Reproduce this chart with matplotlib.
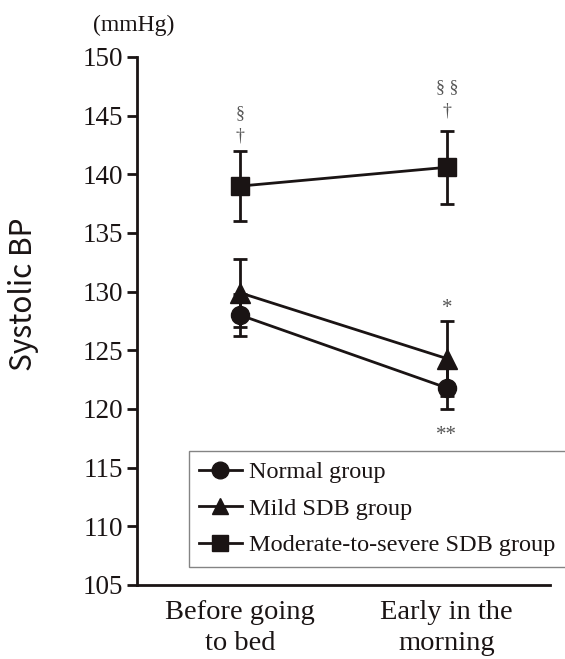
import matplotlib
matplotlib.use("Agg")
import matplotlib.pyplot as plt

categories = ["Before going\nto bed", "Early in the\nmorning"]
groups = ["Normal group", "Mild SDB group", "Moderate-to-severe SDB group"]
means = {
    "Normal group": [128.0, 121.8],
    "Mild SDB group": [129.9, 124.3],
    "Moderate-to-severe SDB group": [139.0, 140.6],
}
errors = {
    "Normal group": [1.8, 1.8],
    "Mild SDB group": [2.9, 3.2],
    "Moderate-to-severe SDB group": [3.0, 3.1],
}
markers = {"Normal group": "o", "Mild SDB group": "^", "Moderate-to-severe SDB group": "s"}
yticks = [105, 110, 115, 120, 125, 130, 135, 140, 145, 150]

serif = ["Liberation Serif", "DejaVu Serif"]
plt.rcParams["font.family"] = serif

fig = plt.figure(figsize=(5.65, 6.59), dpi=100)
ax = fig.add_axes([137/565, 1-585/659, 413/565, (585-57)/659])

x = list(range(len(categories)))
for g in groups:
    ms = 13 if markers[g] != "^" else 14
    ax.errorbar(x, means[g], yerr=errors[g], color="#1a1414", marker=markers[g],
                markersize=ms, lw=2, elinewidth=2, capsize=5, capthick=2, label=g)

ax.set_xlim(-0.5, 1.5)
ax.set_ylim(105, 150)
ax.set_yticks(yticks)
ax.set_xticks(x)
ax.set_xticklabels(categories, fontsize=20.5, linespacing=1.3)
ax.tick_params(axis="y", labelsize=19.5, length=7, width=2, direction="out", pad=3, colors="#1a1414")
ax.tick_params(axis="x", length=0, pad=11, colors="#1a1414")
for s in ["top", "right"]:
    ax.spines[s].set_visible(False)
for s in ["left", "bottom"]:
    ax.spines[s].set_linewidth(2)
    ax.spines[s].set_color("#1a1414")

fig.text(24/565, 1-294/659, "Systolic BP", fontsize=21.5, rotation=90, ha="center", va="center",
         family=["Noto Sans CJK JP", "DejaVu Sans"], color="#1a1414")

fig.text(93/565, 1-25/659, "(mmHg)", fontsize=17, va="center", ha="left", color="#1a1414")

ann_color = "#555555"
ax.text(0, 145.2, "§", fontsize=13, ha="center", va="center", color=ann_color)
ax.text(0, 143.3, "†", fontsize=13, ha="center", va="center", color=ann_color)
ax.text(1, 147.4, "§ §", fontsize=13, ha="center", va="center", color=ann_color)
ax.text(1, 145.4, "†", fontsize=13, ha="center", va="center", color=ann_color)
ax.text(1, 128.6, "*", fontsize=15, ha="center", va="center", color=ann_color)
ax.text(1, 117.7, "**", fontsize=15, ha="center", va="center", color=ann_color)

leg_handles = [plt.Line2D([], [], color="#1a1414", lw=2, marker=markers[g], markersize=12) for g in groups]
leg = fig.legend(leg_handles, groups, loc="upper left", bbox_to_anchor=(189/565, 1-451/659),
                 fontsize=17.5, frameon=True, fancybox=False, handlelength=1.75, handletextpad=0.3,
                 labelspacing=0.6, borderpad=0.42, borderaxespad=0)
leg.get_frame().set_edgecolor("#666666")
leg.get_frame().set_linewidth(1)
for t in leg.get_texts():
    t.set_color("#1a1414")

fig.savefig("out.png", dpi=100)
